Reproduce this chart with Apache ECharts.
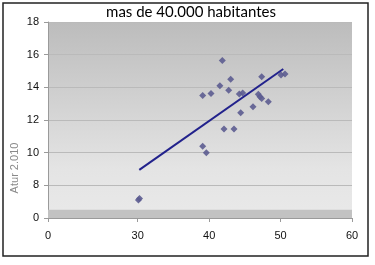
<!DOCTYPE html>
<html>
<head>
<meta charset="utf-8">
<script src="https://cdn.jsdelivr.net/npm/echarts@6/dist/echarts.min.js"></script>
<style>html,body{margin:0;padding:0;background:#fff}#c{width:375px;height:265px}</style>
</head>
<body>
<div id="c"></div>
<script>
// Data
var pointX = [30.1, 30.25, 39.1, 39.6, 39.1, 40.26, 41.5, 41.84, 42.08, 42.74, 43.02, 43.48, 44.22, 44.42, 44.7, 46.14, 46.88, 47.12, 47.36, 47.36, 48.28, 50.06, 50.62];
var pointY = [7.1, 7.2, 10.39, 10.0, 13.5, 13.62, 14.1, 15.64, 11.45, 13.82, 14.5, 11.45, 13.59, 12.44, 13.65, 12.81, 13.57, 13.42, 13.31, 14.65, 13.12, 14.75, 14.81];
var trendX = [30.22, 50.38];
var trendY = [8.95, 15.12];
var xTicks = [17.44, 30, 40, 50, 60];
var yBand = [6, 6.5];
var title = 'mas de 40.000 habitantes';
var yName = 'Atur 2.010';

var pts = pointX.map(function (x, i) { return [x, pointY[i]]; });
var trend = trendX.map(function (x, i) { return [x, trendY[i]]; });

var chart = echarts.init(document.getElementById('c'));
chart.setOption({
  animation: false,
  backgroundColor: '#fff',
  title: {
    text: title, left: 186, top: 0, textAlign: 'center',
    textStyle: { fontFamily: 'Lato', fontSize: 15, fontWeight: 'normal', color: '#000' }
  },
  grid: {
    left: 48, right: 23, top: 22, bottom: 47, show: true, borderWidth: 0,
    backgroundColor: { type: 'linear', x: 0, y: 0, x2: 0, y2: 1,
      colorStops: [{ offset: 0, color: '#bcbcbc' }, { offset: 0.75, color: '#e4e4e4' }, { offset: 1, color: '#e9e9e9' }] }
  },
  xAxis: {
    type: 'value', min: xTicks[0], max: 60,
    axisLine: { show: true, lineStyle: { color: '#9a9a9a' } },
    axisTick: { show: true, length: 4, customValues: xTicks, lineStyle: { color: '#9a9a9a' } },
    axisLabel: { customValues: xTicks, color: '#111', fontFamily: 'Arial, "Liberation Sans"', fontSize: 11, margin: 12,
      formatter: function (v) { return v < 25 ? '0' : String(Math.round(v)); } },
    splitLine: { show: false }
  },
  yAxis: {
    type: 'value', min: 6, max: 18, interval: 2,
    axisLine: { show: true, lineStyle: { color: '#9a9a9a' } },
    axisTick: { show: true, length: 4, lineStyle: { color: '#9a9a9a' } },
    axisLabel: { color: '#111', fontFamily: 'Arial, "Liberation Sans"', fontSize: 11, margin: 9,
      formatter: function (v) { return v === 6 ? '0' : String(v); } },
    splitLine: { show: true, lineStyle: { color: '#bababa', width: 1 } }
  },
  graphic: [
    { type: 'rect', shape: { x: 3, y: 3, width: 365, height: 253 }, style: { fill: null, stroke: '#222', lineWidth: 1.5 }, z: 100 },
    { type: 'text', x: 15, y: 168, rotation: Math.PI / 2, style: { text: yName, fill: '#8a8a8a', font: '11px Arial, "Liberation Sans"', align: 'center', verticalAlign: 'middle' } }
  ],
  series: [
    {
      type: 'scatter', data: pts, symbol: 'diamond', symbolSize: 7,
      itemStyle: { color: '#5c5c90', opacity: 0.9 },
      markArea: { silent: true, itemStyle: { color: '#c2c2c2' }, data: [[{ yAxis: yBand[0] }, { yAxis: yBand[1] }]] },
      z: 3
    },
    {
      type: 'line', data: trend, symbol: 'none',
      lineStyle: { color: '#22228c', width: 2 }, z: 4
    }
  ]
});
</script>
</body>
</html>
